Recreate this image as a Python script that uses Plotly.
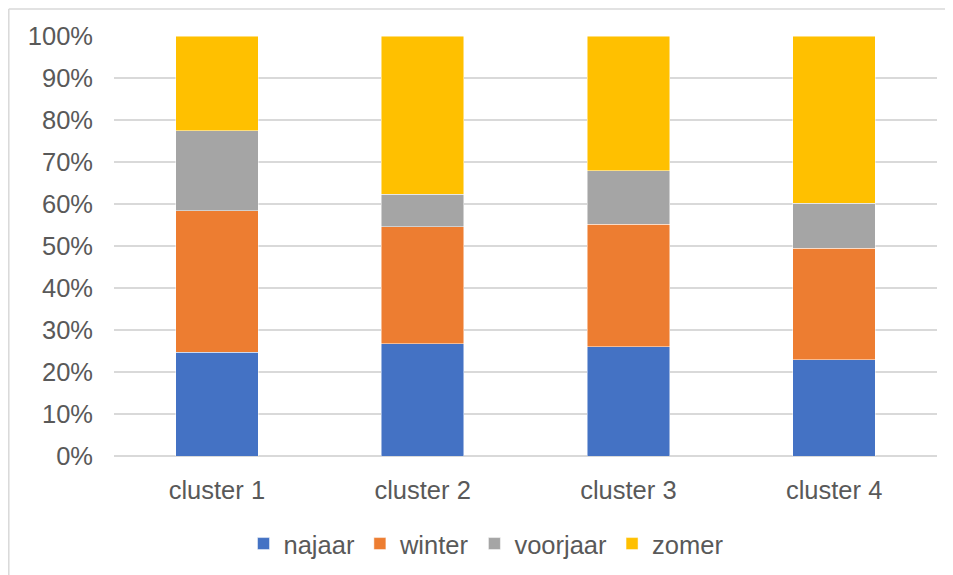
import plotly.graph_objects as go

categories = ["cluster 1", "cluster 2", "cluster 3", "cluster 4"]
najaar = [24.7, 26.7, 26.0, 22.9]
winter = [33.7, 27.9, 29.2, 26.6]
voorjaar = [19.1, 7.7, 12.7, 10.7]
zomer = [22.5, 37.7, 32.1, 39.8]
y_ticks = [0, 10, 20, 30, 40, 50, 60, 70, 80, 90, 100]
y_tick_labels = ["0%", "10%", "20%", "30%", "40%", "50%", "60%", "70%", "80%", "90%", "100%"]

series = [
    ("najaar", najaar, "#4472C4"),
    ("winter", winter, "#ED7D31"),
    ("voorjaar", voorjaar, "#A5A5A5"),
    ("zomer", zomer, "#FFC000"),
]

# page body has an 8px margin, so the figure starts at (8, 8) in the window
W, H = 945, 567
ml, mr, mt, mb = 106, 16, 28, 119
pw, ph = W - ml - mr, H - mt - mb

fig = go.Figure()
for name, vals, col in series:
    fig.add_trace(go.Bar(
        x=categories, y=vals, name=name,
        marker=dict(color=col, line=dict(color="rgba(255,255,255,0.6)", width=0.8)),
    ))

font = dict(family="Liberation Sans, Arial, sans-serif", size=25.5, color="#595959")

def px_x(p):
    return (p - ml) / pw

def px_y(p):
    return 1 - (p - mt) / ph

fig.update_layout(
    width=W, height=H,
    margin=dict(l=ml, r=mr, t=mt, b=mb, autoexpand=False),
    barmode="stack",
    bargap=0.6,
    plot_bgcolor="white",
    paper_bgcolor="white",
    font=font,
    showlegend=True,
    legend=dict(
        orientation="h", x=px_x(478), xanchor="center",
        y=px_y(536), yanchor="middle",
        font=font, traceorder="normal", itemwidth=30,
        itemclick=False,
    ),
    xaxis=dict(
        showgrid=False, showline=False, zeroline=False, automargin=False,
        tickfont=font, ticks="", ticklabelstandoff=16,
    ),
    yaxis=dict(
        range=[0, 100], tickmode="array", tickvals=y_ticks, ticktext=y_tick_labels,
        showgrid=True, gridcolor="#d9d9d9", gridwidth=1.5, automargin=False,
        zeroline=True, zerolinecolor="#d9d9d9", zerolinewidth=1.5,
        showline=False, ticks="", tickfont=font, ticklabelstandoff=20,
    ),
    shapes=[
        dict(type="line", xref="paper", yref="paper",
             x0=px_x(0.8), x1=px_x(0.8), y0=px_y(1), y1=px_y(H + 5),
             line=dict(color="#d9d9d9", width=1.5)),
        dict(type="line", xref="paper", yref="paper",
             x0=px_x(0.8), x1=px_x(W + 5), y0=px_y(1), y1=px_y(1),
             line=dict(color="#d9d9d9", width=1.5)),
    ],
)

fig.write_html("out.html")
